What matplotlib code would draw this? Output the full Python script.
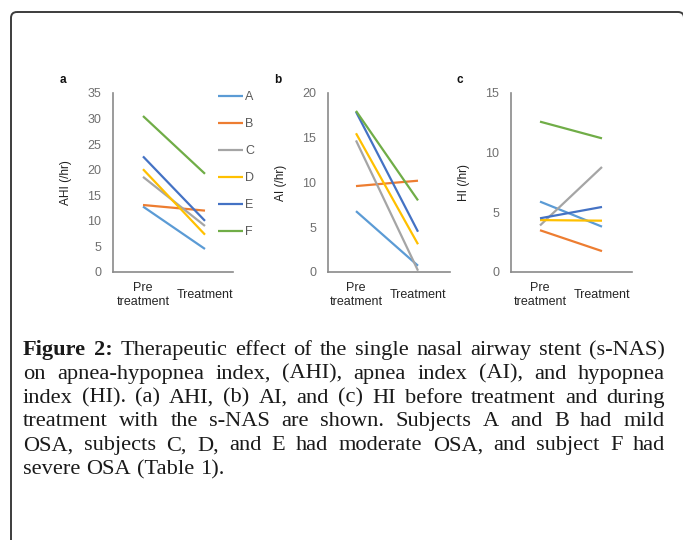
import matplotlib
matplotlib.use("Agg")
import matplotlib.pyplot as plt
from matplotlib.patches import FancyBboxPatch

# ---------------- data ----------------
categories = ["Pre\ntreatment", "Treatment"]
subjects = ["A", "B", "C", "D", "E", "F"]
colors = ["#5B9BD5", "#ED7D31", "#A5A5A5", "#FFC000", "#4472C4", "#70AD47"]

ahi_pre = [12.8, 13.1, 18.6, 20.1, 22.6, 30.5]
ahi_post = [4.5, 12.0, 9.0, 7.3, 10.0, 19.2]
ai_pre = [6.8, 9.6, 14.7, 15.5, 17.9, 18.0]
ai_post = [0.7, 10.2, 0.15, 3.1, 4.5, 8.0]
hi_pre = [5.9, 3.5, 3.9, 4.35, 4.5, 12.6]
hi_post = [3.8, 1.75, 8.8, 4.3, 5.45, 11.2]

panel_letters = ["a", "b", "c"]
ylabels = ["AHI (/hr)", "AI (/hr)", "HI (/hr)"]
yticks = [[0, 5, 10, 15, 20, 25, 30, 35], [0, 5, 10, 15, 20], [0, 5, 10, 15]]

caption_lines = [
    "Figure 2: Therapeutic effect of the single nasal airway stent (s-NAS)",
    "on apnea-hypopnea index, (AHI), apnea index (AI), and hypopnea",
    "index (HI). (a) AHI, (b) AI, and (c) HI before treatment and during",
    "treatment with the s-NAS are shown. Subjects A and B had mild",
    "OSA, subjects C, D, and E had moderate OSA, and subject F had",
    "severe OSA (Table 1).",
]
bold_words = 2  # "Figure 2:"

# ---------------- figure ----------------
W, H = 683, 540
fig = plt.figure(figsize=(W / 100, H / 100), dpi=100)
fig.patch.set_facecolor("white")

bg = fig.add_axes([0, 0, 1, 1], zorder=0)
bg.set_xlim(0, W)
bg.set_ylim(H, 0)
bg.axis("off")

frame = FancyBboxPatch((11, 12), 673, 600, boxstyle="round,pad=0,rounding_size=6",
                       fill=False, ec="#3c3c3c", lw=1.4)
bg.add_patch(frame)

sans = ["Liberation Sans", "DejaVu Sans"]
serif = ["Liberation Serif", "DejaVu Serif"]

# axes placement (pixel boxes)
boxes = [(113, 120, -30), (328, 122, -28), (511, 121, -29)]
ax_top, ax_bot = 93, 272
letter_x = [63, 278, 460]
series = [(ahi_pre, ahi_post), (ai_pre, ai_post), (hi_pre, hi_post)]

handles = []
for i, ((left, width, off), (pre, post)) in enumerate(zip(boxes, series)):
    ax = fig.add_axes([left / W, 1 - ax_bot / H, width / W, (ax_bot - ax_top) / H], zorder=2)
    ax.patch.set_alpha(0)
    for s, c, a, b in zip(subjects, colors, pre, post):
        ln, = ax.plot([0, 1], [a, b], color=c, lw=1.6, label=s, solid_capstyle="butt")
        if i == 0:
            handles.append(ln)
    x0 = off / 62.0
    ax.set_xlim(x0, x0 + width / 62.0)
    ax.set_ylim(yticks[i][0], yticks[i][-1])
    ax.set_yticks(yticks[i])
    ax.set_xticks([0, 1])
    ax.set_xticklabels(categories, fontfamily=sans, fontsize=9, color="#262626",
                       linespacing=1.2)
    for lab in ax.get_xticklabels():
        lab.set_va("center")
    ax.set_yticklabels([str(t) for t in yticks[i]], fontfamily=sans, fontsize=9,
                       color="#6f6f6f")
    ax.tick_params(axis="x", length=0, pad=16.5)
    ax.tick_params(axis="y", length=0, pad=8.6)
    for sp in ["top", "right"]:
        ax.spines[sp].set_visible(False)
    for sp in ["left", "bottom"]:
        ax.spines[sp].set_color("#8a8a8a")
        ax.spines[sp].set_linewidth(1.2)
    ax.set_ylabel(ylabels[i], fontfamily=sans, fontsize=8.6, color="#1e1e1e", va="center")
    ax.yaxis.set_label_coords(-47 / width, 0.5)
    bg.text(letter_x[i], 80, panel_letters[i], fontfamily=sans, fontsize=8.5,
            fontweight="bold", ha="center", va="center", color="#111111")

fig.legend(handles=handles, labels=subjects, loc="upper left",
           bbox_to_anchor=(218 / W, 1 - 91 / H), frameon=False, borderaxespad=0,
           borderpad=0, handlelength=2.0, handletextpad=0.15, labelspacing=1.2,
           prop={"family": sans, "size": 9}, labelcolor="#595959")

# ---------------- caption (justified) ----------------
fig.canvas.draw()
rend = fig.canvas.get_renderer()


def word_list(line_idx):
    words = caption_lines[line_idx].split(" ")
    out = []
    for k, w in enumerate(words):
        bold = (line_idx == 0 and k < bold_words)
        out.append((w, bold))
    return out


def measure(word, bold, size):
    t = bg.text(0, 0, word, fontfamily=serif, fontsize=size,
                fontweight="bold" if bold else "normal")
    wpx = t.get_window_extent(rend).width
    t.remove()
    return wpx


ref_size = 10.0
space_w = measure("a a", False, ref_size) - measure("aa", False, ref_size)
x_left, x_right = 23, 665
line_w = x_right - x_left

nat = []
for li in range(len(caption_lines)):
    wl = word_list(li)
    ws = [measure(w, b, ref_size) for w, b in wl]
    nat.append(sum(ws) + space_w * (len(ws) - 1))
cap_size = min(ref_size * line_w / n for n in nat[:-1]) * 0.965

baseline0, spacing = 355, 23.8
for li in range(len(caption_lines)):
    wl = word_list(li)
    ws = [measure(w, b, cap_size) for w, b in wl]
    y = baseline0 + li * spacing
    if li < len(caption_lines) - 1:
        gap = (line_w - sum(ws)) / (len(ws) - 1)
    else:
        gap = space_w * cap_size / ref_size * 1.1
    x = x_left
    for (w, b), wpx in zip(wl, ws):
        bg.text(x, y, w, fontfamily=serif, fontsize=cap_size,
                fontweight="bold" if b else "normal", ha="left", va="baseline",
                color="#1a1a1a")
        x += wpx + gap

fig.savefig("out.png", dpi=100, facecolor="white")
